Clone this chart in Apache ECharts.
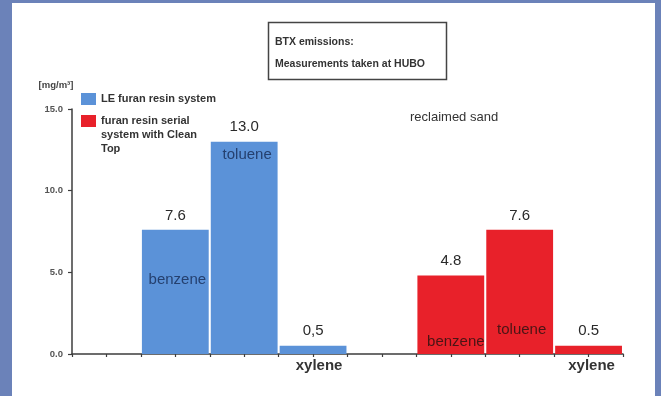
<!DOCTYPE html>
<html>
<head>
<meta charset="utf-8">
<title>BTX emissions</title>
<script src="https://cdn.jsdelivr.net/npm/echarts@6/dist/echarts.min.js"></script>
<style>
  html, body { margin: 0; padding: 0; background: #6b82b9; }
  #chart { width: 661px; height: 396px; }
</style>
</head>
<body>
<div id="chart"></div>
<script>
// Binder systems compared
const groups = ['LE furan resin system', 'furan resin serial system with Clean Top'];
// Aromatic compounds measured
const compounds = ['benzene', 'toluene', 'xylene'];
// Emissions in mg/m³
const leFuran = [7.6, 13.0, 0.5];
const cleanTop = [4.8, 7.6, 0.5];
// Printed value labels
const leFuranLabels = ['7.6', '13.0', '0,5'];
const cleanTopLabels = ['4.8', '7.6', '0.5'];
// Y axis ticks
const yTicks = [0, 5, 10, 15];

const FONT = '"Liberation Sans", Arial, Helvetica, sans-serif';
const BLUE = '#5b92d8';
const RED = '#e8212a';

// Eight slots on the x axis: an empty slot, then the three compounds, twice
const slotNames = ['', ...compounds, ' ', ...compounds];
const blueData = [null, ...leFuran, null, null, null, null];
const redData = [null, null, null, null, null, ...cleanTop];
const blueText = [null, ...leFuranLabels, null, null, null, null];
const redText = [null, null, null, null, null, ...cleanTopLabels];

// Where each compound name sits relative to its bar
const BAR_TEXT_BLUE = '#25406f';
const BAR_TEXT_RED = '#4a1515';
const namePlacement = [
  null,
  { position: 'inside', offset: [2, -12], color: BAR_TEXT_BLUE },
  { position: 'insideTop', distance: 6, offset: [3, 0], color: BAR_TEXT_BLUE },
  { position: 'bottom', distance: 4, offset: [6, 0], color: '#333', fontWeight: 'bold' },
  null,
  { position: 'insideBottom', distance: 5, offset: [5, 0], color: BAR_TEXT_RED },
  { position: 'insideBottom', distance: 17, offset: [2, 0], color: BAR_TEXT_RED },
  { position: 'bottom', distance: 4, offset: [3, 0], color: '#333', fontWeight: 'bold' }
];

const nameData = slotNames.map((name, i) => {
  const v = blueData[i] != null ? blueData[i] : redData[i];
  if (v == null) return null;
  const p = namePlacement[i];
  return {
    value: v,
    label: Object.assign({
      show: true,
      formatter: name,
      fontSize: 15,
      fontFamily: FONT
    }, p)
  };
});

const valueLabel = (texts) => ({
  show: true,
  position: 'top',
  distance: 7,
  fontSize: 15,
  color: '#2a2a2a',
  fontFamily: FONT,
  formatter: (p) => texts[p.dataIndex]
});

// Legend entries wrap onto short lines; a multi-line entry is padded with
// blank lines above so its first line sits level with the colour swatch.
const legendLines = (name) => {
  const lines = name
    .replace(' system with', '\nsystem with')
    .replace('Clean ', 'Clean\n')
    .split('\n');
  const pad = new Array(lines.length - 1).fill(' ');
  return pad.concat(lines).join('\n');
};

const chart = echarts.init(document.getElementById('chart'), null, { renderer: 'canvas' });

chart.setOption({
  backgroundColor: '#6b82b9',
  animation: false,
  textStyle: { fontFamily: FONT },
  graphic: [
    {
      type: 'rect', z: -10, silent: true,
      shape: { x: 12, y: 3, width: 643, height: 400 },
      style: { fill: '#ffffff' }
    },
    {
      type: 'rect', silent: true,
      shape: { x: 268.5, y: 22.5, width: 178, height: 57 },
      style: { fill: '#ffffff', stroke: '#444', lineWidth: 1.5 }
    },
    {
      type: 'text', silent: true, left: 275, top: 37,
      style: { text: 'BTX emissions:', fill: '#333', font: 'bold 10.5px ' + FONT }
    },
    {
      type: 'text', silent: true, left: 275, top: 59,
      style: { text: 'Measurements taken at HUBO', fill: '#333', font: 'bold 10.5px ' + FONT }
    },
    {
      type: 'text', silent: true, left: 410, top: 111,
      style: { text: 'reclaimed sand', fill: '#333', font: '13px ' + FONT }
    }
  ],
  legend: {
    orient: 'vertical',
    left: 81,
    top: 86,
    padding: 0,
    itemWidth: 15,
    itemHeight: 12,
    itemGap: -20,
    icon: 'rect',
    selectedMode: false,
    formatter: legendLines,
    textStyle: { fontSize: 11, fontWeight: 'bold', color: '#333', lineHeight: 14, fontFamily: FONT },
    data: [groups[0], groups[1]]
  },
  grid: { left: 72, right: 38, top: 109, bottom: 42 },
  xAxis: [
    {
      type: 'category',
      data: slotNames,
      boundaryGap: true,
      axisLine: { lineStyle: { color: '#3d3d3d', width: 1.5 } },
      axisTick: { show: false },
      axisLabel: { show: false },
      splitLine: { show: false }
    },
    {
      type: 'value',
      min: 0,
      max: slotNames.length * 2,
      interval: 1,
      position: 'bottom',
      axisLine: { show: false },
      axisTick: { show: true, length: 3, lineStyle: { color: '#3d3d3d', width: 1.2 } },
      axisLabel: { show: false },
      splitLine: { show: false }
    }
  ],
  yAxis: {
    type: 'value',
    min: yTicks[0],
    max: yTicks[yTicks.length - 1],
    interval: yTicks[1] - yTicks[0],
    name: '[mg/m³]',
    nameLocation: 'end',
    nameGap: 19,
    nameTextStyle: { fontSize: 9.5, fontWeight: 'bold', color: '#444', padding: [0, 32, 0, 0], fontFamily: FONT },
    axisLine: { show: true, lineStyle: { color: '#3d3d3d', width: 1.5 } },
    axisTick: { show: true, length: 4, lineStyle: { color: '#3d3d3d', width: 1.2 } },
    axisLabel: {
      fontSize: 9.5,
      fontWeight: 'bold',
      color: '#555',
      margin: 9,
      fontFamily: FONT,
      formatter: (v) => v.toFixed(1)
    },
    splitLine: { show: false }
  },
  series: [
    {
      name: groups[0],
      type: 'bar',
      xAxisIndex: 0,
      barGap: '-100%',
      barCategoryGap: '3%',
      itemStyle: { color: BLUE },
      label: valueLabel(blueText),
      data: blueData
    },
    {
      name: groups[1],
      type: 'bar',
      xAxisIndex: 0,
      barGap: '-100%',
      barCategoryGap: '3%',
      itemStyle: { color: RED },
      label: valueLabel(redText),
      data: redData
    },
    {
      name: 'compound',
      type: 'bar',
      xAxisIndex: 0,
      barGap: '-100%',
      barCategoryGap: '3%',
      silent: true,
      itemStyle: { color: 'rgba(0,0,0,0)' },
      data: nameData
    }
  ]
});
</script>
</body>
</html>
